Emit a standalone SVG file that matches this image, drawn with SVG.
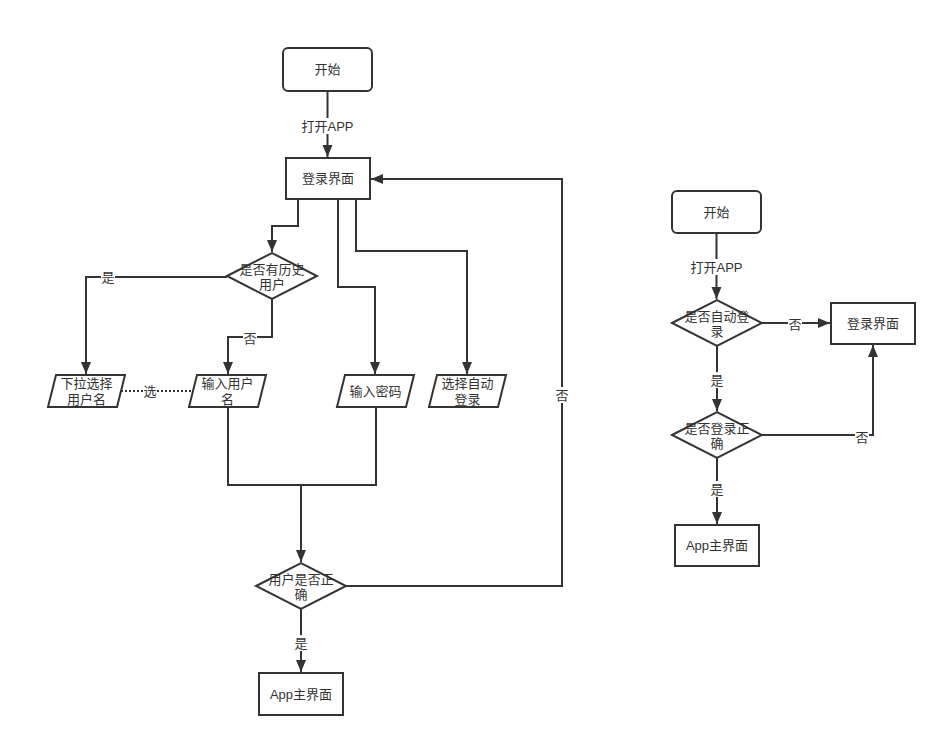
<svg xmlns="http://www.w3.org/2000/svg" width="946" height="747" viewBox="0 0 946 747">
<defs>
<style>
.n{fill:#fff;stroke:#333;stroke-width:2}
.c{fill:none;stroke:#333;stroke-width:2}
.d{fill:none;stroke:#333;stroke-width:2;stroke-dasharray:2 2}
text{font-family:"Liberation Sans","Noto Sans CJK SC",sans-serif;font-size:13px;fill:#333;text-anchor:middle;dominant-baseline:central}
.lb{fill:#fff;stroke:none}
</style>
<marker id="a" markerUnits="userSpaceOnUse" markerWidth="14" markerHeight="14" viewBox="0 0 14 14" refX="13" refY="7" orient="auto">
<path d="M1,2 L13,7 L1,12 Z" fill="#333"/>
</marker>
</defs>
<rect width="946" height="747" fill="#fff"/>
<g id="connectors">
<path class="c" d="M327.5,91 V157" marker-end="url(#a)"/>
<path class="c" d="M346,586 H562 V179 H371" marker-end="url(#a)"/>
<path class="c" d="M298,199 V226 H272 V252" marker-end="url(#a)"/>
<path class="c" d="M338,199 V287 H375 V374" marker-end="url(#a)"/>
<path class="c" d="M356,199 V251 H467 V374" marker-end="url(#a)"/>
<path class="c" d="M227,277 H86 V374" marker-end="url(#a)"/>
<path class="c" d="M272,299 V337 H228 V374" marker-end="url(#a)"/>
<path class="d" d="M121,391 H193"/>
<path class="c" d="M228,407 V485 H376 V407"/>
<path class="c" d="M301,485 V562" marker-end="url(#a)"/>
<path class="c" d="M301,609 V672" marker-end="url(#a)"/>
<path class="c" d="M716.5,233 V299" marker-end="url(#a)"/>
<path class="c" d="M762,323 H830" marker-end="url(#a)"/>
<path class="c" d="M717,346 V411" marker-end="url(#a)"/>
<path class="c" d="M762,435 H873 V345" marker-end="url(#a)"/>
<path class="c" d="M717,458 V524" marker-end="url(#a)"/>
<rect class="lb" x="299" y="118" width="57" height="16"/><text x="327.5" y="126">打开APP</text>
<rect class="lb" x="555" y="387" width="14" height="16"/><text x="562" y="395">否</text>
<rect class="lb" x="101" y="269" width="14" height="16"/><text x="108" y="277">是</text>
<rect class="lb" x="243" y="330" width="14" height="16"/><text x="250" y="338">否</text>
<rect class="lb" x="143" y="383" width="14" height="16"/><text x="150" y="391">选</text>
<rect class="lb" x="294" y="635" width="14" height="16"/><text x="301" y="643">是</text>
<rect class="lb" x="688" y="259" width="57" height="16"/><text x="716.5" y="267">打开APP</text>
<rect class="lb" x="788" y="316" width="14" height="16"/><text x="795" y="324">否</text>
<rect class="lb" x="710" y="372" width="14" height="16"/><text x="717" y="380">是</text>
<rect class="lb" x="855" y="429" width="14" height="16"/><text x="862" y="437">否</text>
<rect class="lb" x="710" y="481" width="14" height="16"/><text x="717" y="489">是</text>
</g>
<g id="start1"><rect class="n" x="283" y="48" width="89" height="43" rx="5"/><text x="327.5" y="69.5">开始</text></g>
<g id="login1"><rect class="n" x="286" y="158" width="84" height="41"/><text x="328" y="178.5">登录界面</text></g>
<g id="hist"><path class="n" d="M227,276 L272,253 L317,276 L272,299 Z"/><text x="272" y="269">是否有历史</text><text x="272" y="284">用户</text></g>
<g id="dropdown"><path class="n" d="M56,375 H125 L117,407 H48 Z"/><text x="86.5" y="383.5">下拉选择</text><text x="86.5" y="399">用户名</text></g>
<g id="inputuser"><path class="n" d="M197,375 H266 L258,407 H189 Z"/><text x="227.5" y="383.5">输入用户</text><text x="227.5" y="399">名</text></g>
<g id="inputpwd"><path class="n" d="M345,375 H414 L406,407 H337 Z"/><text x="375.5" y="391">输入密码</text></g>
<g id="autologin"><path class="n" d="M437,375 H506 L498,407 H429 Z"/><text x="467.5" y="383.5">选择自动</text><text x="467.5" y="399">登录</text></g>
<g id="check1"><path class="n" d="M256,586 L301,563 L346,586 L301,609 Z"/><text x="301" y="579">用户是否正</text><text x="301" y="594">确</text></g>
<g id="main1"><rect class="n" x="259" y="673" width="84" height="42"/><text x="301" y="694">App主界面</text></g>
<g id="start2"><rect class="n" x="672" y="191" width="89" height="42" rx="5"/><text x="716.5" y="212">开始</text></g>
<g id="auto2"><path class="n" d="M672,323 L717,300 L762,323 L717,346 Z"/><text x="717" y="316">是否自动登</text><text x="717" y="331">录</text></g>
<g id="login2"><rect class="n" x="831" y="303" width="84" height="41"/><text x="873" y="323.5">登录界面</text></g>
<g id="check2"><path class="n" d="M672,435 L717,412 L762,435 L717,458 Z"/><text x="717" y="428">是否登录正</text><text x="717" y="443">确</text></g>
<g id="main2"><rect class="n" x="675" y="525" width="84" height="41"/><text x="717" y="545.5">App主界面</text></g>
</svg>
